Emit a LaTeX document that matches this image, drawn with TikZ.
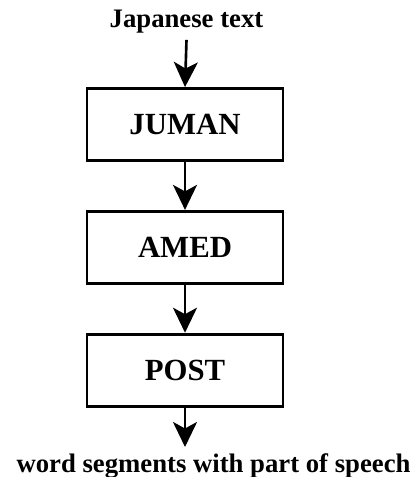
\documentclass[tikz,border=0pt]{standalone}
\usepackage{fontspec}
\setmainfont{Liberation Serif}
\usetikzlibrary{arrows.meta,positioning}

\begin{document}
\begin{tikzpicture}[
  proc/.style={draw,line width=1.6pt,minimum width=3.92cm,minimum height=1.44cm,
               font=\fontsize{17.5}{20}\selectfont\bfseries},
  lbl/.style={font=\fontsize{15.2}{18}\selectfont\bfseries},
  arr/.style={-{Stealth[length=5mm,width=4.8mm,inset=1.3mm]},line width=1.5pt}
]
\useasboundingbox (0,0) rectangle (8.3,-9.54);

\node[proc] (juman) at (3.7,-2.49) {JUMAN};
\node[proc,below=0.96cm of juman] (amed) {AMED};
\node[proc,below=0.96cm of amed] (post) {POST};

\node[lbl,anchor=base] (jtext) at (3.73,-0.56) {Japanese text};
\node[lbl,anchor=base] (wseg) at (4.27,-9.44) {word segments with part of speech};

\draw[arr] (jtext.south) -- (juman.north);
\draw[arr] (juman) -- (amed);
\draw[arr] (amed) -- (post);
\draw[arr] (post.south) -- (post.south |- wseg.north);
\end{tikzpicture}
\end{document}
